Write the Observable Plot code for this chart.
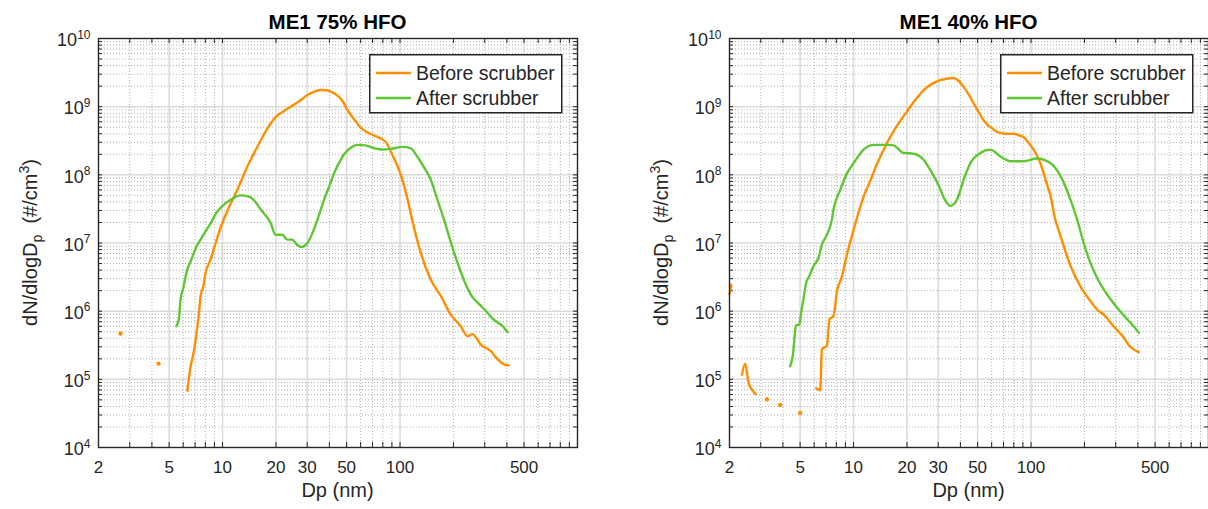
<!DOCTYPE html>
<html><head><meta charset="utf-8">
<script src="https://cdn.jsdelivr.net/npm/d3@7"></script>
<script src="https://cdn.jsdelivr.net/npm/@observablehq/plot@0.6"></script>
<style>
body{margin:0;background:#fff;font-family:"Liberation Sans",Arial,sans-serif;}
#wrap{display:flex;width:1208px;height:509px;overflow:hidden;background:#fff}
.panel{position:relative;flex:none;height:509px}
.panel svg{display:block}
</style></head><body><div id="wrap"></div>
<script>
// ---------- axis ticks ----------
const xMajor = [2, 5, 10, 20, 30, 50, 100, 500];
const xTickLabels = ["2", "5", "10", "20", "30", "50", "100", "500"];
const xMinor = [3, 4, 6, 7, 8, 9, 40, 60, 70, 80, 90, 200, 300, 400, 600, 700, 800, 900];
const yMajor = [1e4, 1e5, 1e6, 1e7, 1e8, 1e9, 1e10];
const yTickLabels = ["10^4", "10^5", "10^6", "10^7", "10^8", "10^9", "10^10"];
const yMinor = yMajor.slice(0, -1).flatMap(d => [2, 3, 4, 5, 6, 7, 8, 9].map(k => k * d));

// ---------- ME1 75% HFO ----------
const dp75Before = [6.33, 6.61, 6.90, 7.14, 7.36, 7.52, 7.79, 8.02, 8.57, 9.14, 9.74, 10.6, 12.1, 13.8, 15.7, 17.9, 20.0, 22.0, 24.2, 27.0, 30.1, 33.0, 35.7, 38.5, 41.5, 44.4, 47.5, 50.6, 55, 60, 68, 78, 84, 89, 95, 101, 110, 117, 131, 149, 170, 193, 220, 240, 256, 286, 325, 347, 386, 410];
const n75Before = [6.8e4, 1.55e5, 2.6e5, 4.8e5, 9.3e5, 1.66e6, 2.3e6, 3.6e6, 5.75e6, 1.0e7, 1.66e7, 2.9e7, 6.0e7, 1.32e8, 2.57e8, 4.8e8, 7.1e8, 8.5e8, 1.0e9, 1.2e9, 1.48e9, 1.66e9, 1.76e9, 1.74e9, 1.62e9, 1.45e9, 1.2e9, 8.9e8, 6.6e8, 4.9e8, 4.0e8, 3.4e8, 2.95e8, 2.14e8, 1.5e8, 1.0e8, 4.5e7, 2.2e7, 7.1e6, 2.9e6, 1.66e6, 8.9e5, 6.0e5, 4.3e5, 4.6e5, 3.2e5, 2.6e5, 2.1e5, 1.66e5, 1.6e5];
const dp75BeforeDots = [2.66, 4.36];
const n75BeforeDots = [4.7e5, 1.7e5];
const dp75After = [5.49, 5.67, 5.80, 6.01, 6.33, 6.61, 7.14, 7.52, 8.02, 8.57, 9.34, 10.0, 11.1, 12.6, 14.1, 15.2, 16.4, 18.7, 19.9, 21.7, 23.2, 24.7, 26.2, 27.8, 29.0, 30.1, 32.7, 35.0, 37.3, 40.0, 42.5, 46.3, 48.4, 52.8, 57.6, 64, 70, 78, 88.7, 103, 115, 125, 135, 149, 163, 177, 195, 211, 230, 251, 280, 311, 330, 355, 380, 404];
const n75After = [6.0e5, 7.6e5, 1.48e6, 2.2e6, 4.1e6, 5.4e6, 8.9e6, 1.12e7, 1.48e7, 1.95e7, 2.9e7, 3.5e7, 4.3e7, 5.0e7, 4.8e7, 4.1e7, 3.1e7, 1.95e7, 1.32e7, 1.32e7, 1.12e7, 1.12e7, 9.5e6, 8.7e6, 9.1e6, 1.0e7, 1.58e7, 2.6e7, 4.3e7, 6.9e7, 1.05e8, 1.66e8, 2.0e8, 2.5e8, 2.75e8, 2.7e8, 2.5e8, 2.35e8, 2.4e8, 2.57e8, 2.45e8, 1.86e8, 1.35e8, 8.5e7, 4.2e7, 2.2e7, 9.5e6, 5.1e6, 2.8e6, 1.74e6, 1.26e6, 9.5e5, 7.9e5, 6.8e5, 6.0e5, 4.9e5];

// ---------- ME1 40% HFO ----------
const dp40BeforeA = [2.0, 2.03, 2.05];
const n40BeforeA = [1.8e6, 2.1e6, 2.45e6];
const dp40BeforeB = [2.35, 2.45, 2.56, 2.67, 2.82];
const n40BeforeB = [1.17e5, 1.7e5, 8.9e4, 7.1e4, 6.0e4];
const dp40BeforeDots = [3.25, 3.86, 5.0];
const n40BeforeDots = [5.1e4, 4.2e4, 3.2e4];
const dp40BeforeC = [6.15, 6.49, 6.63, 7.08, 7.32, 7.71, 8.06, 8.6, 9.18, 10.0, 11.4, 12.5, 13.6, 14.8, 16.1, 18.0, 20.0, 22.3, 24.8, 27.5, 30.8, 33.5, 36.6, 39.0, 41.7, 44.5, 47.5, 50.5, 54, 61.6, 67.2, 74, 80, 86, 91, 97, 103.5, 113, 121, 129, 137, 143, 153, 167, 190, 216, 236, 257, 292, 333, 355, 379, 405];
const n40BeforeC = [7.4e4, 6.9e4, 2.75e5, 3.16e5, 7.6e5, 8.5e5, 1.95e6, 3.24e6, 6.8e6, 1.55e7, 4.8e7, 8.5e7, 1.48e8, 2.34e8, 3.6e8, 5.75e8, 8.5e8, 1.26e9, 1.74e9, 2.14e9, 2.45e9, 2.57e9, 2.63e9, 2.4e9, 1.95e9, 1.51e9, 1.12e9, 8.5e8, 6.3e8, 4.6e8, 4.1e8, 4.0e8, 4.0e8, 3.8e8, 3.55e8, 2.95e8, 2.34e8, 1.48e8, 8.3e7, 4.8e7, 2.2e7, 1.55e7, 8.9e6, 4.6e6, 2.3e6, 1.41e6, 1.05e6, 8.9e5, 6.0e5, 4.1e5, 3.2e5, 2.75e5, 2.5e5];
const dp40After = [4.39, 4.55, 4.75, 4.95, 5.05, 5.2, 5.45, 5.6, 5.95, 6.34, 6.63, 7.08, 7.55, 7.71, 8.41, 9.18, 10, 11.4, 13.0, 15.4, 16.8, 19.1, 21.8, 24.8, 27.1, 30, 32.9, 35.1, 38.5, 42, 45.5, 51.8, 59, 67.2, 76.5, 91, 108, 129, 147, 167, 182, 198, 216, 241, 269, 306, 348, 379, 405];
const n40After = [1.55e5, 2.24e5, 6.3e5, 6.3e5, 8.9e5, 1.41e6, 2.8e6, 3.16e6, 4.6e6, 6.0e6, 9.5e6, 1.32e7, 2.2e7, 3.1e7, 6.0e7, 1.05e8, 1.48e8, 2.34e8, 2.75e8, 2.75e8, 2.7e8, 2.1e8, 2.04e8, 1.66e8, 1.17e8, 7.2e7, 4.2e7, 3.5e7, 4.5e7, 8.9e7, 1.48e8, 2.1e8, 2.34e8, 1.86e8, 1.58e8, 1.58e8, 1.74e8, 1.48e8, 9.5e7, 4.3e7, 2.2e7, 1.0e7, 5.1e6, 2.75e6, 1.74e6, 1.12e6, 7.6e5, 6.0e5, 4.8e5];

const seriesNames = ["Before scrubber", "After scrubber"];
const ORANGE = "#ff8f00", GREEN = "#5ec733", INK = "#262626";

const zip = (xs, ys) => xs.map((x, i) => ({dp: x, n: ys[i]}));

function panel({title, width, marginLeft, marginRight, before, beforeDots, after, legendLeft}) {
  const H = 509, mt = 38, mb = 62;
  const ph = H - mt - mb, pw = width - marginLeft - marginRight;
  const div = document.createElement("div");
  div.className = "panel";
  div.style.width = width + "px";
  const lineOpt = (c) => ({x: "dp", y: "n", stroke: c, strokeWidth: 2.4, curve: "monotone-x", strokeLinejoin: "round", strokeLinecap: "round"});
  const xAll = xMajor.concat(xMinor);
  const yAll = yMajor.concat(yMinor);
  const svg = Plot.plot({
    width, height: H, marginTop: mt, marginBottom: mb, marginLeft, marginRight,
    style: {fontFamily: "'Liberation Sans', Arial, sans-serif", color: INK, background: "white", overflow: "visible"},
    x: {type: "log", domain: [2, 1000], axis: null},
    y: {type: "log", domain: [1e4, 1e10], axis: null},
    marks: [
      // minor grid (dotted)
      Plot.ruleY(yMinor, {stroke: "#a8a8a8", strokeWidth: 0.9, strokeDasharray: "1,2"}),
      Plot.ruleX(xMinor, {stroke: "#a8a8a8", strokeWidth: 0.9, strokeDasharray: "1,2"}),
      // major grid (solid)
      Plot.ruleY(yMajor.slice(1, -1), {stroke: "#dadada", strokeWidth: 1.5}),
      Plot.ruleX(xMajor.slice(1), {stroke: "#dadada", strokeWidth: 1.5}),
      // inward ticks
      Plot.ruleX(xAll, {stroke: INK, strokeWidth: 1, insetBottom: ph - 5}),
      Plot.ruleX(xAll, {stroke: INK, strokeWidth: 1, insetTop: ph - 5}),
      Plot.ruleY(yAll, {stroke: INK, strokeWidth: 1, insetRight: pw - 4}),
      Plot.ruleY(yAll, {stroke: INK, strokeWidth: 1, insetLeft: pw - 4}),
      // data
      ...before.map(seg => Plot.line(seg, lineOpt(ORANGE))),
      Plot.dot(beforeDots, {x: "dp", y: "n", r: 2.2, fill: ORANGE, stroke: null}),
      Plot.line(after, lineOpt(GREEN)),
      Plot.frame({stroke: INK, strokeWidth: 1.4}),
      // tick labels
      Plot.text(xMajor, {x: d => d, text: (d, i) => xTickLabels[i], frameAnchor: "bottom",
        lineAnchor: "top", dy: 13, fontSize: 17, fill: INK}),
      Plot.text(yMajor, {y: d => d, text: (d, i) => yTickLabels[i], frameAnchor: "left",
        textAnchor: "end", lineAnchor: "middle", dx: -8, dy: 2, fontSize: 18, fill: INK})
    ]
  });
  const s = d3.select(svg);
  // superscripts on y tick labels
  s.selectAll("text").each(function () {
    const t = d3.select(this);
    const str = t.text();
    if (!str.includes("^")) return;
    const [b, e] = str.split("^");
    t.text(null);
    t.append("tspan").text(b);
    t.append("tspan").attr("font-size", 12).attr("dy", -7.5).text(e);
  });
  // title
  s.append("text").attr("x", marginLeft + pw / 2).attr("y", 29).attr("text-anchor", "middle")
    .attr("font-size", 20.5).attr("font-weight", "bold").attr("fill", "#000").text(title);
  // x label
  s.append("text").attr("x", marginLeft + pw / 2).attr("y", 497).attr("text-anchor", "middle")
    .attr("font-size", 20).attr("fill", INK).text("Dp (nm)");
  // y label
  const yl = s.append("text").attr("transform", `translate(${marginLeft - 61},${mt + ph / 2}) rotate(-90)`)
    .attr("text-anchor", "middle").attr("font-size", 20).attr("fill", INK);
  yl.append("tspan").text("dN/dlogD");
  yl.append("tspan").attr("font-size", 14).attr("dy", 5).text("p");
  yl.append("tspan").attr("dy", -5).text("\u00a0 (#/cm");
  yl.append("tspan").attr("font-size", 14).attr("dy", -8).text("3");
  yl.append("tspan").attr("dy", 8).text(")");
  div.appendChild(svg);

  // legend
  const lg = d3.select(div).append("svg")
    .style("position", "absolute").style("left", legendLeft + "px").style("top", "54px")
    .attr("width", 194).attr("height", 60);
  lg.append("rect").attr("x", 0.75).attr("y", 0.75).attr("width", 192).attr("height", 58)
    .attr("fill", "white").attr("stroke", INK).attr("stroke-width", 1.5);
  [[ORANGE, 19, 25.5], [GREEN, 44, 50.5]].forEach(([c, ly, ty], i) => {
    lg.append("line").attr("x1", 7).attr("x2", 42).attr("y1", ly).attr("y2", ly)
      .attr("stroke", c).attr("stroke-width", 2.6);
    lg.append("text").attr("x", 47).attr("y", ty).attr("font-size", 19.5).attr("fill", INK)
      .style("font-family", "'Liberation Sans', Arial, sans-serif").text(seriesNames[i]);
  });
  return div;
}

const wrap = document.getElementById("wrap");
wrap.appendChild(panel({
  title: "ME1 75% HFO", width: 600, marginLeft: 98, marginRight: 23,
  before: [zip(dp75Before, n75Before)],
  beforeDots: zip(dp75BeforeDots, n75BeforeDots),
  after: zip(dp75After, n75After),
  legendLeft: 369
}));
wrap.appendChild(panel({
  title: "ME1 40% HFO", width: 608, marginLeft: 129, marginRight: 0,
  before: [zip(dp40BeforeA, n40BeforeA), zip(dp40BeforeB, n40BeforeB), zip(dp40BeforeC, n40BeforeC)],
  beforeDots: zip(dp40BeforeDots, n40BeforeDots),
  after: zip(dp40After, n40After),
  legendLeft: 400
}));
</script></body></html>
